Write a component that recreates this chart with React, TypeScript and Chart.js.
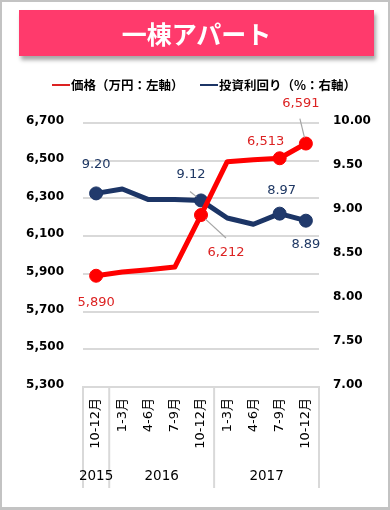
import React, { useEffect, useRef } from "react";
import { Chart, registerables } from "chart.js";

Chart.register(...registerables);

// ---- data ----
const categories = ["10-12月", "1-3月", "4-6月", "7-9月", "10-12月", "1-3月", "4-6月", "7-9月", "10-12月"];
const years = ["2015", "2016", "2017"];
const yearSpans = [1, 4, 4];
const priceValues = [5890, 5910, 5922, 5936, 6212, 6495, 6505, 6513, 6591];
const yieldValues = [9.2, 9.25, 9.13, 9.13, 9.12, 8.92, 8.85, 8.97, 8.89];
const markedIndex = [0, 4, 7, 8];
const priceAxis = { min: 5300, max: 6700, step: 200 };
const yieldAxis = { min: 7, max: 10, step: 0.5 };
const titleText = "一棟アパート";
const priceLegend = "価格（万円：左軸）";
const yieldLegend = "投資利回り（%：右軸）";

// ---- style ----
const RED = "#FF0000";
const RED_LABEL = "#DC2222";
const NAVY = "#1C3566";
const NAVY_LABEL = "#1F3864";
const GRID = "#D9D9D9";
const LATIN = "'DejaVu Sans', 'Noto Sans CJK JP', sans-serif";
const CJK = "'Noto Sans CJK JP', sans-serif";

// label placement relative to the point (px)
const priceLabelPlace: Record<number, { dx: number; dy: number; leader?: [number, number] }> = {
  0: { dx: 0, dy: 27 },
  4: { dx: 25, dy: 38, leader: [25, 23] },
  7: { dx: -14, dy: -17 },
  8: { dx: -5, dy: -40, leader: [-6, -25] },
};
const yieldLabelPlace: Record<number, { dx: number; dy: number; leader?: [number, number] }> = {
  0: { dx: 0, dy: -29 },
  4: { dx: -10, dy: -26, leader: [-11, -9] },
  7: { dx: 2, dy: -23 },
  8: { dx: 0, dy: 24 },
};

const labelsPlugin = {
  id: "valueLabels",
  afterDatasetsDraw(chart: any) {
    const ctx = chart.ctx;
    const sets = [
      { meta: chart.getDatasetMeta(0), values: priceValues, place: priceLabelPlace, color: RED_LABEL, fmt: (v: number) => v.toLocaleString("en-US") },
      { meta: chart.getDatasetMeta(1), values: yieldValues, place: yieldLabelPlace, color: NAVY_LABEL, fmt: (v: number) => v.toFixed(2) },
    ];
    ctx.save();
    // leaders
    for (const s of sets) {
      for (const k of Object.keys(s.place)) {
        const i = Number(k);
        const p = s.place[i];
        if (!p.leader) continue;
        const pt = s.meta.data[i];
        const [lx, ly] = p.leader;
        const len = Math.hypot(lx, ly);
        const sx = pt.x + (lx / len) * 6;
        const sy = pt.y + (ly / len) * 6;
        ctx.strokeStyle = "#A6A6A6";
        ctx.lineWidth = 1.2;
        ctx.beginPath();
        ctx.moveTo(sx, sy);
        ctx.lineTo(pt.x + lx, pt.y + ly);
        ctx.stroke();
      }
    }
    ctx.font = `13px ${LATIN}`;
    ctx.textAlign = "center";
    ctx.textBaseline = "middle";
    for (const s of sets) {
      for (const k of Object.keys(s.place)) {
        const i = Number(k);
        const p = s.place[i];
        const pt = s.meta.data[i];
        ctx.fillStyle = s.color;
        ctx.fillText(s.fmt(s.values[i]), pt.x + p.dx, pt.y + p.dy);
      }
    }
    ctx.restore();
  },
};

const yearPlugin = {
  id: "yearRow",
  afterDraw(chart: any) {
    const ctx = chart.ctx;
    const xs = chart.scales.x;
    const area = chart.chartArea;
    const w = (area.right - area.left) / categories.length;
    const bottom = 488;
    ctx.save();
    ctx.strokeStyle = GRID;
    ctx.lineWidth = 2;
    let start = 0;
    const bounds: number[] = [area.left];
    yearSpans.forEach((span) => {
      start += span;
      bounds.push(xs.getPixelForValue(start - 1) + w / 2);
    });
    bounds.forEach((bx) => {
      ctx.beginPath();
      ctx.moveTo(bx, area.bottom);
      ctx.lineTo(bx, bottom);
      ctx.stroke();
    });
    ctx.fillStyle = "#000";
    ctx.font = `13.5px ${LATIN}`;
    ctx.textAlign = "center";
    ctx.textBaseline = "middle";
    years.forEach((y, i) => {
      ctx.fillText(y, (bounds[i] + bounds[i + 1]) / 2, 476);
    });
    ctx.restore();
  },
};

export default function App() {
  const ref = useRef<HTMLCanvasElement | null>(null);

  useEffect(() => {
    if (!ref.current) return;
    const pointR = (ctx: any) => (markedIndex.includes(ctx.dataIndex) ? 6.5 : 0);
    const chart = new Chart(ref.current, {
      type: "line",
      data: {
        labels: categories,
        datasets: [
          {
            label: priceLegend,
            data: priceValues,
            yAxisID: "y",
            borderColor: RED,
            backgroundColor: RED,
            borderWidth: 5,
            pointRadius: pointR,
            pointBackgroundColor: RED,
            pointBorderColor: RED,
            pointBorderWidth: 1,
            tension: 0,
            borderJoinStyle: "round",
          },
          {
            label: yieldLegend,
            data: yieldValues,
            yAxisID: "y1",
            borderColor: NAVY,
            backgroundColor: NAVY,
            borderWidth: 5,
            pointRadius: pointR,
            pointBackgroundColor: "#213A6C",
            pointBorderColor: NAVY,
            pointBorderWidth: 1,
            tension: 0,
            borderJoinStyle: "round",
          },
        ],
      },
      options: {
        responsive: false,
        animation: false,
        events: [],
        layout: { padding: { top: 123, left: 0, right: 0, bottom: 0 } },
        plugins: { legend: { display: false }, tooltip: { enabled: false }, title: { display: false } },
        scales: {
          x: {
            type: "category",
            offset: true,
            grid: { display: false, drawTicks: false },
            border: { display: true, color: GRID, width: 2 },
            ticks: {
              autoSkip: false,
              maxRotation: 90,
              minRotation: 90,
              padding: 11,
              color: "#000",
              font: { family: LATIN, size: 13 },
            },
            afterFit: (s: any) => {
              s.height = 123;
            },
          },
          y: {
            position: "left",
            min: priceAxis.min,
            max: priceAxis.max,
            grid: { color: GRID, lineWidth: 2, drawTicks: false },
            border: { display: false },
            ticks: {
              stepSize: priceAxis.step,
              padding: 19,
              labelOffset: -2,
              color: "#000",
              font: { family: LATIN, size: 12, weight: "bold" },
              callback: (v: any) => Number(v).toLocaleString("en-US"),
            },
            afterFit: (s: any) => {
              s.width = 83;
            },
          },
          y1: {
            position: "right",
            min: yieldAxis.min,
            max: yieldAxis.max,
            grid: { display: false, drawTicks: false },
            border: { display: false },
            ticks: {
              stepSize: yieldAxis.step,
              padding: 14,
              labelOffset: -2,
              color: "#000",
              font: { family: LATIN, size: 12, weight: "bold" },
              callback: (v: any) => Number(v).toFixed(2),
            },
            afterFit: (s: any) => {
              s.width = 71;
            },
          },
        },
      },
      plugins: [labelsPlugin, yearPlugin],
    } as any);
    return () => chart.destroy();
  }, []);

  const legendText: React.CSSProperties = {
    position: "absolute",
    top: 76,
    fontFamily: CJK,
    fontWeight: 700,
    fontSize: 12.5,
    lineHeight: "18px",
    color: "#000",
    whiteSpace: "nowrap",
  };

  return (
    <div style={{ position: "fixed", left: 0, top: 0, width: 390, height: 510, background: "#fff", overflow: "hidden" }}>
      <canvas ref={ref} width={390} height={510} style={{ position: "absolute", left: 0, top: 0, width: 390, height: 510 }} />
      <div
        style={{
          position: "absolute",
          left: 19,
          top: 10,
          width: 355,
          height: 46,
          background: "#FF3A6C",
          boxShadow: "2px 4px 4px rgba(0,0,0,0.35)",
          color: "#fff",
          fontFamily: CJK,
          fontWeight: 700,
          fontSize: 25,
          display: "flex",
          alignItems: "center",
          justifyContent: "center",
          letterSpacing: 0,
        }}
      >
        {titleText}
      </div>
      <div style={{ position: "absolute", left: 52, top: 84, width: 18, height: 2, background: RED_LABEL }} />
      <div style={{ ...legendText, left: 71 }}>{priceLegend}</div>
      <div style={{ position: "absolute", left: 200, top: 84, width: 18, height: 2, background: NAVY }} />
      <div style={{ ...legendText, left: 219 }}>{yieldLegend}</div>
      <div
        style={{
          position: "absolute",
          left: 0,
          top: 0,
          width: 390,
          height: 510,
          boxSizing: "border-box",
          borderStyle: "solid",
          borderColor: "#C3C3C3",
          borderWidth: "2px 2px 3px 2px",
          pointerEvents: "none",
        }}
      />
    </div>
  );
}
